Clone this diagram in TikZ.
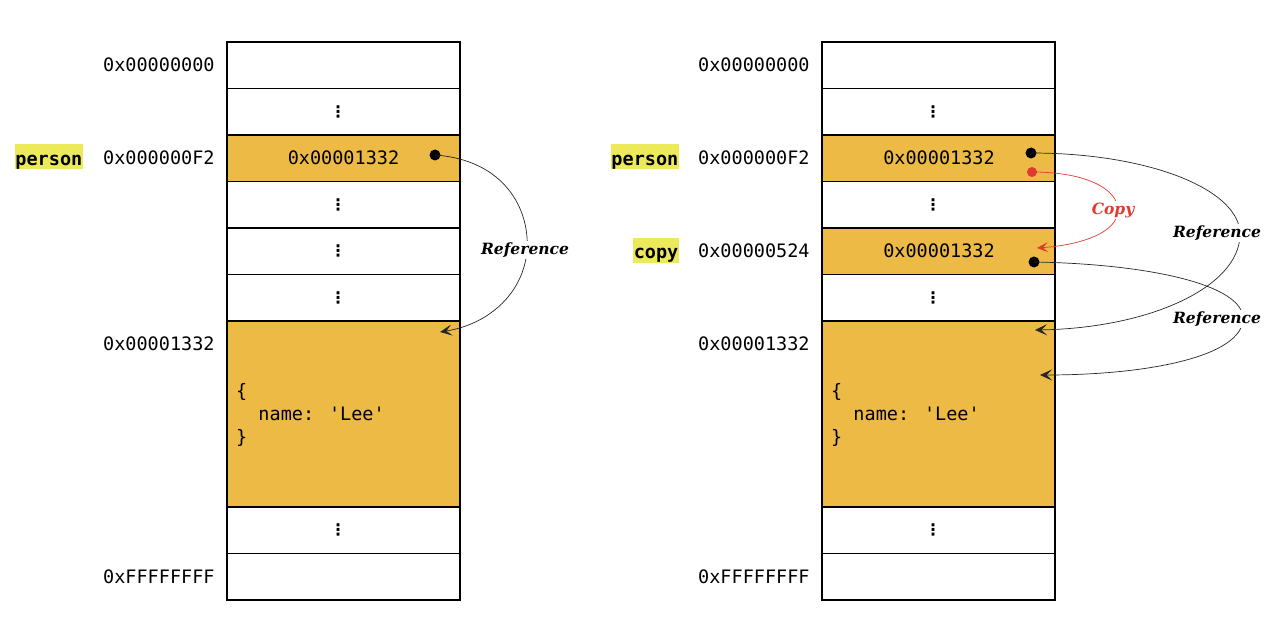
\documentclass[tikz,border=0pt]{standalone}
\usepackage{fontspec}
\newfontfamily\monof[Ligatures=TeXOff]{DejaVu Sans Mono}
\newfontfamily\symf{DejaVu Sans}
\newfontfamily\labelf{DejaVu Serif}
\usetikzlibrary{arrows.meta}
\definecolor{cellorange}{RGB}{236,186,69}
\definecolor{hilite}{RGB}{236,234,90}
\definecolor{copyred}{RGB}{222,58,48}
\tikzset{
  cell/.style={draw=black, line width=1.2pt, minimum width=233pt, minimum height=46.5pt, inner sep=0pt, outer sep=0pt, anchor=north west},
  filled/.style={fill=cellorange},
  addr/.style={anchor=west, font=\monof\fontsize{18.5}{22}\selectfont, inner sep=0pt},
  val/.style={font=\monof\fontsize{18.5}{22}\selectfont, inner sep=0pt},
  vdotsnode/.style={font=\symf\bfseries\fontsize{16}{16}\selectfont, inner sep=0pt},
  varname/.style={anchor=base east, fill=hilite, font=\monof\bfseries\fontsize{18.5}{22}\selectfont, inner xsep=0.5pt, inner ysep=0.5pt, text height=20pt, text depth=4pt},
  reflabel/.style={font=\labelf\bfseries\itshape\fontsize{15.5}{18}\selectfont, fill=white, inner sep=1.5pt},
  ptr/.style={circle, fill=black, inner sep=0pt, minimum size=11pt},
  arr/.style={-{Stealth[length=12pt, width=11pt, inset=5.5pt]}, line width=0.7pt, draw=black!85},
  objtext/.style={anchor=west, align=left, font=\monof\fontsize{18.5}{23}\selectfont, inner sep=0pt}
}
\begin{document}
\begin{tikzpicture}[x=1pt, y=-1pt]
\useasboundingbox (0,0) rectangle (1280,623);
% ---------------- left column ----------------
\node[cell] (L0) at (227,42) {};
\node[cell] (L1) at (227,88.5) {};
\node[cell, filled] (L2) at (227,135) {};
\node[cell] (L3) at (227,181.5) {};
\node[cell] (L4) at (227,228) {};
\node[cell] (L5) at (227,274.5) {};
\node[cell, filled, minimum height=186pt] (L6) at (227,321) {};
\node[cell] (L7) at (227,507) {};
\node[cell] (L8) at (227,553.5) {};
% ---------------- right column ----------------
\node[cell] (R0) at (822,42) {};
\node[cell] (R1) at (822,88.5) {};
\node[cell, filled] (R2) at (822,135) {};
\node[cell] (R3) at (822,181.5) {};
\node[cell, filled] (R4) at (822,228) {};
\node[cell] (R5) at (822,274.5) {};
\node[cell, filled, minimum height=186pt] (R6) at (822,321) {};
\node[cell] (R7) at (822,507) {};
\node[cell] (R8) at (822,553.5) {};
% ---------------- addresses ----------------
\node[addr] (la0) at (103,65.25) {0x00000000};
\node[addr] (la2) at (103,158.25) {0x000000F2};
\node[addr] (la6) at (103,344.25) {0x00001332};
\node[addr] (la8) at (103,576.75) {0xFFFFFFFF};
\node[addr] (ra0) at (698,65.25) {0x00000000};
\node[addr] (ra2) at (698,158.25) {0x000000F2};
\node[addr] (ra4) at (698,251.25) {0x00000524};
\node[addr] (ra6) at (698,344.25) {0x00001332};
\node[addr] (ra8) at (698,576.75) {0xFFFFFFFF};
% ---------------- variable names ----------------
\node[varname] (lperson) at (83,165) {person};
\node[varname] (rperson) at (679,165) {person};
\node[varname] (rcopy) at (679,258) {copy};
% ---------------- values ----------------
\node[val] (lv2) at (343.5,158.25) {0x00001332};
\node[val] (rv2) at (939,158.25) {0x00001332};
\node[val] (rv4) at (939,251.25) {0x00001332};
\node[objtext] (lobj) at (236,415) {\{\\\hphantom{xx}name: 'Lee'\\\}};
\node[objtext] (robj) at (831,415) {\{\\\hphantom{xx}name: 'Lee'\\\}};
% ---------------- vertical dots ----------------
\node[vdotsnode] (ld1) at (338,111.75) {⋮};
\node[vdotsnode] (ld3) at (338,204.75) {⋮};
\node[vdotsnode] (ld4) at (338,251.25) {⋮};
\node[vdotsnode] (ld5) at (338,297.75) {⋮};
\node[vdotsnode] (ld7) at (338,530.25) {⋮};
\node[vdotsnode] (rd1) at (933,111.75) {⋮};
\node[vdotsnode] (rd3) at (933,204.75) {⋮};
\node[vdotsnode] (rd5) at (933,297.75) {⋮};
\node[vdotsnode] (rd7) at (933,530.25) {⋮};
% ---------------- pointers ----------------
\node[ptr] (lp) at (435,155) {};
\node[ptr] (rp1) at (1031,153) {};
\node[ptr, fill=copyred, minimum size=10pt] (rpc) at (1032,172) {};
\node[ptr] (rp2) at (1034,262) {};
\coordinate (lt) at (440,332);
\coordinate (rt1) at (1035,330);
\coordinate (rtc) at (1037,248);
\coordinate (rt2) at (1040,375);
% ---------------- arrows ----------------
\draw[arr] (lp.center) .. controls (505,160) and (530,210) .. (527,250)
  .. controls (524,292) and (490,324) .. (lt);
\node[reflabel] (lref) at (525,250) {Reference};

\draw[arr] (rp1.center) .. controls (1150,153) and (1241,190) .. (1240,235)
  .. controls (1239,287) and (1150,328) .. (rt1);
\draw[arr] (rp2.center) .. controls (1150,264) and (1244,285) .. (1243,319)
  .. controls (1242,356) and (1150,375) .. (rt2);
\node[reflabel] (rref1) at (1217,233) {Reference};
\node[reflabel] (rref2) at (1217,319) {Reference};

\draw[arr, draw=copyred, -{Stealth[length=11pt, width=10pt, inset=5pt]}] (rpc.center) .. controls (1088,172) and (1118,190) .. (1118,210)
  .. controls (1118,233) and (1080,245) .. (rtc);
\node[reflabel, text=copyred] (rcopylbl) at (1113,210) {Copy};
\end{tikzpicture}
\end{document}
